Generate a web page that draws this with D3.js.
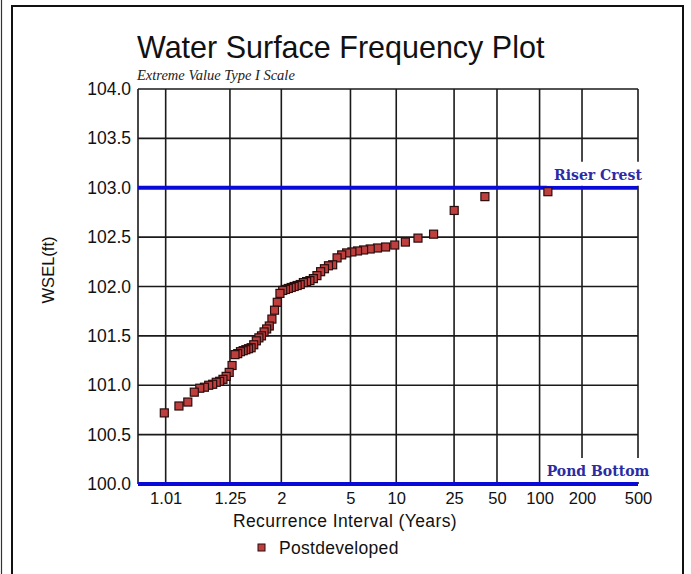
<!DOCTYPE html>
<html>
<head>
<meta charset="utf-8">
<script src="https://cdn.jsdelivr.net/npm/d3@7"></script>
<style>
  html, body { margin: 0; padding: 0; background: #fff; }
  svg { display: block; }
</style>
</head>
<body>
<svg id="chart" width="691" height="574"></svg>
<script>
// Recurrence intervals (years) of the ranked annual peaks, largest first
const recurrenceYears = [
  114.5, 41.10, 25.05, 18.01, 14.06, 11.53, 9.774, 8.481, 7.491, 6.707,
  6.072, 5.547, 5.105, 4.729, 4.404, 4.121, 3.872, 3.652, 3.455, 3.278,
  3.119, 2.974, 2.842, 2.722, 2.611, 2.509, 2.414, 2.327, 2.245, 2.169,
  2.098, 2.032, 1.969, 1.911, 1.855, 1.803, 1.754, 1.707, 1.663, 1.621,
  1.581, 1.543, 1.507, 1.472, 1.439, 1.407, 1.377, 1.348, 1.320, 1.294,
  1.268, 1.244, 1.220, 1.197, 1.175, 1.154, 1.134, 1.114, 1.095, 1.077,
  1.059, 1.042, 1.025, 1.009
];
// Peak water surface elevations (ft), same order
const wselPostdeveloped = [
  102.96, 102.91, 102.77, 102.53, 102.49, 102.45, 102.42, 102.40, 102.39, 102.38,
  102.37, 102.36, 102.35, 102.34, 102.32, 102.29, 102.22, 102.21, 102.18, 102.15,
  102.11, 102.08, 102.06, 102.05, 102.04, 102.02, 102.01, 102.00, 101.99, 101.98,
  101.97, 101.96, 101.93, 101.84, 101.76, 101.67, 101.60, 101.57, 101.54, 101.50,
  101.48, 101.45, 101.41, 101.38, 101.37, 101.36, 101.35, 101.34, 101.32, 101.31,
  101.20, 101.13, 101.09, 101.06, 101.04, 101.03, 101.01, 101.00, 100.98, 100.97,
  100.93, 100.83, 100.79, 100.72
];
const xTickValues = [1.01, 1.25, 2, 5, 10, 25, 50, 100, 200, 500];
const yTickValues = [100.0, 100.5, 101.0, 101.5, 102.0, 102.5, 103.0, 103.5, 104.0];
const referenceLevels = [
  { name: "Riser Crest", value: 103.0 },
  { name: "Pond Bottom", value: 100.0 }
];
const seriesName = "Postdeveloped";

const svg = d3.select("#chart");
const margin = { left: 138, right: 638, top: 89, bottom: 484 };
const sans = "Liberation Sans, Arial, sans-serif";

// Extreme Value Type I (Gumbel) reduced variate of a recurrence interval
const gumbel = T => -Math.log(-Math.log(1 - 1 / T));

const gx = d3.scaleLinear()
  .domain([gumbel(1.0007), gumbel(500)])
  .range([margin.left, margin.right]);
const x = T => gx(gumbel(T));
const y = d3.scaleLinear().domain([100, 104]).range([margin.bottom, margin.top]);

// outer frame
svg.append("line").attr("x1", 1.5).attr("x2", 1.5).attr("y1", 0).attr("y2", 574)
  .attr("stroke", "#333").attr("stroke-width", 1.2);
svg.append("rect").attr("x", 12).attr("y", 6).attr("width", 671).attr("height", 580)
  .attr("fill", "none").attr("stroke", "#111").attr("stroke-width", 2);

// title
svg.append("text").attr("x", 137).attr("y", 58)
  .attr("font-family", sans).attr("font-size", 30.5)
  .attr("fill", "#111").text("Water Surface Frequency Plot");
svg.append("text").attr("x", 137).attr("y", 80)
  .attr("font-family", "Liberation Serif, Times New Roman, serif").attr("font-style", "italic")
  .attr("font-size", 14.5).attr("fill", "#222").text("Extreme Value Type I Scale");

const grid = svg.append("g").attr("stroke", "#1a1a1a").attr("stroke-width", 1.6);
// horizontal grid
grid.selectAll("line.h").data(yTickValues).join("line").attr("class", "h")
  .attr("x1", margin.left).attr("x2", margin.right)
  .attr("y1", d => y(d)).attr("y2", d => y(d));
// vertical grid
grid.selectAll("line.v").data(xTickValues).join("line").attr("class", "v")
  .attr("x1", d => x(d)).attr("x2", d => x(d))
  .attr("y1", margin.top).attr("y2", margin.bottom);
// left border
grid.append("line").attr("x1", margin.left).attr("x2", margin.left)
  .attr("y1", margin.top).attr("y2", margin.bottom);

// axes: tick labels only
const yAxis = d3.axisLeft(y).tickValues(yTickValues).tickFormat(d3.format(".1f")).tickSize(0).tickPadding(7);
const yG = svg.append("g").attr("transform", `translate(${margin.left},0)`).call(yAxis);
yG.select(".domain").remove();
yG.selectAll("text").attr("font-family", sans)
  .attr("font-size", 17.5).attr("fill", "#111");

const xAxis = d3.axisBottom(gx).tickValues(xTickValues.map(gumbel))
  .tickFormat((d, i) => String(xTickValues[i])).tickSize(0).tickPadding(8);
const xG = svg.append("g").attr("transform", `translate(0,${margin.bottom})`).call(xAxis);
xG.select(".domain").remove();
xG.selectAll("text").attr("font-family", sans)
  .attr("font-size", 16.5).attr("fill", "#111");

// axis titles
svg.append("text").attr("x", 345).attr("y", 527).attr("text-anchor", "middle")
  .attr("font-family", sans).attr("font-size", 17.5).attr("letter-spacing", 0.4)
  .attr("fill", "#111").text("Recurrence Interval (Years)");
svg.append("text").attr("transform", "translate(54,270) rotate(-90)").attr("text-anchor", "middle")
  .attr("font-family", sans).attr("font-size", 16.5)
  .attr("fill", "#111").text("WSEL(ft)");

// reference levels with labels
const refs = svg.append("g");
referenceLevels.forEach(r => {
  refs.append("line").attr("x1", margin.left).attr("x2", margin.right)
    .attr("y1", y(r.value)).attr("y2", y(r.value))
    .attr("stroke", "#0a0ad8").attr("stroke-width", 4);
  const ly = y(r.value) - 2;
  refs.append("rect").attr("x", 547).attr("y", ly - 24).attr("width", 104).attr("height", 24)
    .attr("fill", "#fff");
  refs.append("text").attr("x", 598).attr("y", y(r.value) - 8).attr("text-anchor", "middle")
    .attr("font-family", "DejaVu Serif, serif").attr("font-weight", "bold")
    .attr("font-size", 14).attr("fill", "#2b2ba6").text(r.name);
});

// data points
const pts = recurrenceYears.map((T, i) => ({ T, v: wselPostdeveloped[i] }));
const ms = 8;
svg.append("g").selectAll("rect").data(pts).join("rect")
  .attr("x", d => x(d.T) - ms / 2).attr("y", d => y(d.v) - ms / 2)
  .attr("width", ms).attr("height", ms)
  .attr("fill", "#bf3f3f").attr("stroke", "#2a0d0d").attr("stroke-width", 1.2);

// legend
svg.append("rect").attr("x", 258).attr("y", 544).attr("width", 7).attr("height", 7)
  .attr("fill", "#bf3f3f").attr("stroke", "#2a0d0d").attr("stroke-width", 1);
svg.append("text").attr("x", 279).attr("y", 554)
  .attr("font-family", sans).attr("font-size", 17.5).attr("letter-spacing", 0.3)
  .attr("fill", "#111").text(seriesName);
</script>
</body>
</html>
